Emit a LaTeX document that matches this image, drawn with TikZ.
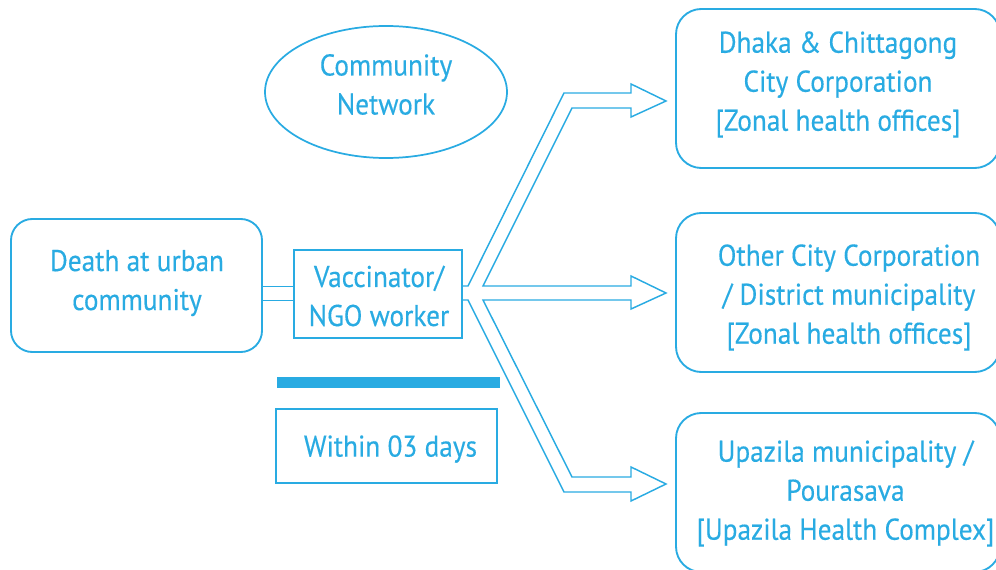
\documentclass[tikz,border=0pt]{standalone}
\usepackage{fontspec}
\setmainfont{PT Sans}[FakeStretch=0.91,FakeBold=0.3]
\usetikzlibrary{shapes.geometric}
\definecolor{cyanline}{RGB}{41,171,226}
\tikzset{
  px/.style={x=0.75pt,y=-0.75pt},
  txt/.style={text=cyanline,font=\fontsize{22.5}{29.25}\selectfont,align=center},
  rbox/.style={draw=cyanline,line width=1.4pt,rounded corners=16pt,inner sep=0pt},
  sbox/.style={draw=cyanline,line width=1.3pt,inner sep=0pt},
  conn/.style={draw=cyanline,line width=1.1pt,line join=miter},
}
\begin{document}
\begin{tikzpicture}[px]
\useasboundingbox (0,0) rectangle (996,570);
% left box
\node[rbox,minimum width=188.25pt,minimum height=99.75pt] (death) at (136.5,285.5) {};
\node[txt] (deathtxt) at (137,283) {Death at urban\\community};
% vaccinator
\node[sbox,minimum width=126pt,minimum height=66pt] (vacc) at (378,294) {};
\node[txt] (vacctxt) at (379,296) {Vaccinator/\\NGO worker};
% community network
\node[ellipse,draw=cyanline,line width=1.3pt,minimum width=181.5pt,minimum height=99pt,inner sep=0pt] (netw) at (386,92) {};
\node[txt] (netwtxt) at (386,84.5) {Community\\Network};
% bar
\node[fill=cyanline,minimum width=167.25pt,minimum height=8.25pt,inner sep=0pt] (bar) at (388.5,382.5) {};
% within
\node[sbox,minimum width=165.75pt,minimum height=55.5pt] (within) at (386.5,446) {};
\node[txt] (withintxt) at (390.5,449) {Within 03 days};
% right boxes
\node[rbox,minimum width=243pt,minimum height=119.25pt,rounded corners=19pt] (r1) at (838,88.5) {};
\node[txt] (r1t) at (838,84.5) {Dhaka \& Chittagong\\City Corporation\\{[Zonal health offices]}};
\node[rbox,minimum width=243pt,minimum height=119.25pt,rounded corners=19pt] (r2) at (838,292.5) {};
\node[txt] (r2t) at (849,297.5) {Other City Corporation\\/ District municipality\\{[Zonal health offices]}};
\node[rbox,minimum width=243pt,minimum height=119.25pt,rounded corners=19pt] (r3) at (838,492.5) {};
\node[txt] (r3t) at (845.5,493.5) {Upazila municipality /\\Pourasava\\{[Upazila Health Complex]}};
% double connector death -> vaccinator
\draw[conn] ([yshift=5.6pt]vacc.west -| death.east) -- ([yshift=5.6pt]vacc.west);
\draw[conn] ([yshift=-4.9pt]vacc.west -| death.east) -- ([yshift=-4.9pt]vacc.west);
% three-branched hollow arrow from vaccinator to the right boxes
\draw[conn] (462,286) -- (468,286) -- (564,93) -- (631,93) -- (631,84) -- (666,101) -- (631,117) -- (631,108) -- (572,108) -- (483,286)
  -- (631,286) -- (631,276) -- (666,293) -- (631,309) -- (631,300) -- (483,300)
  -- (572,477) -- (631,477) -- (631,467) -- (666,484) -- (631,501) -- (631,492) -- (564,492) -- (468,300) -- (462,300);
\end{tikzpicture}
\end{document}
